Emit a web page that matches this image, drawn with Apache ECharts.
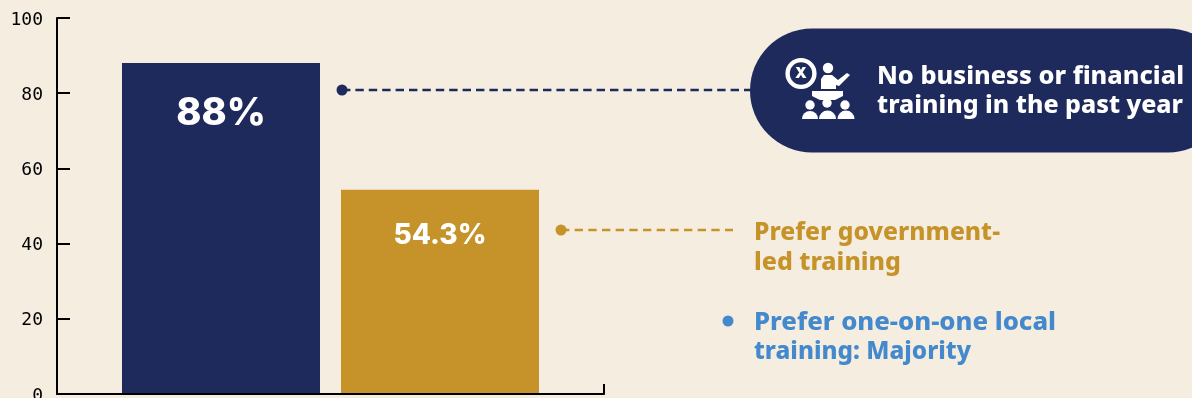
<!DOCTYPE html>
<html>
<head>
<meta charset="utf-8">
<style>
  html, body { margin: 0; padding: 0; background: #F5EDE0; }
  #chart { width: 1192px; height: 398px; }
</style>
<script src="https://cdn.jsdelivr.net/npm/echarts@6/dist/echarts.min.js"></script>
</head>
<body>
<div id="chart"></div>
<script>
const categories = ['Training'];
const noTrainingShare = [88];
const governmentLedShare = [54.3];
const yTicks = { min: 0, max: 100, interval: 20 };

const NAVY = '#1F2A5C';
const GOLD = '#C6932A';
const BLUE = '#4389CC';
const SANS = '"Noto Sans", sans-serif';
const VALUE_FONT = 'Inter, "Noto Sans", sans-serif';

const chart = echarts.init(document.getElementById('chart'), null, { renderer: 'canvas' });

// Half-disc used for the shoulders of each audience member
const shoulders = (cx, cy, r) => ({
  type: 'sector',
  shape: { cx, cy, r, r0: 0, startAngle: Math.PI, endAngle: 2 * Math.PI },
  style: { fill: '#fff' }
});

// Presenter and audience pictogram inside the navy pill
const icon = [
  { type: 'circle', shape: { cx: 801, cy: 73.5, r: 13.4 }, style: { fill: 'none', stroke: '#fff', lineWidth: 4.4 } },
  { type: 'text', style: { x: 801, y: 73.5, text: 'X', fill: '#fff', font: '900 15px ' + VALUE_FONT, align: 'center', verticalAlign: 'middle' } },
  { type: 'circle', shape: { cx: 828, cy: 68, r: 5.2 }, style: { fill: '#fff' } },
  { type: 'polygon', shape: { points: [[821, 89], [821, 79], [824, 75], [832, 75], [838, 80], [847, 73], [850, 75], [839, 86], [836, 85], [836, 89]] }, style: { fill: '#fff' } },
  { type: 'polygon', shape: { points: [[812, 91], [843, 91], [843, 96], [835, 100], [820, 100], [812, 96]] }, style: { fill: '#fff' } },
  { type: 'circle', shape: { cx: 810, cy: 105, r: 4.7 }, style: { fill: '#fff' } },
  { type: 'circle', shape: { cx: 827, cy: 103, r: 4.7 }, style: { fill: '#fff' } },
  { type: 'circle', shape: { cx: 845, cy: 105, r: 4.7 }, style: { fill: '#fff' } },
  shoulders(810, 119, 8),
  shoulders(827.5, 119, 8.5),
  shoulders(846, 119, 8.5)
];

// Annotation line stretched horizontally so it spans the given width
const measure = document.createElement('canvas').getContext('2d');
const label = (x, y, text, fill, span) => {
  const font = '800 24.5px ' + SANS;
  measure.font = font;
  return {
    type: 'text',
    x,
    y,
    scaleX: span / measure.measureText(text).width,
    style: { x: 0, y: 0, text, fill, font, verticalAlign: 'middle' }
  };
};

const annotations = [
  { type: 'rect', shape: { x: 750, y: 28.5, width: 480, height: 124, r: 62 }, style: { fill: NAVY } },
  { type: 'line', shape: { x1: 342, y1: 90, x2: 750, y2: 90 }, style: { stroke: NAVY, lineWidth: 2.6, lineDash: [8.4, 5] } },
  { type: 'circle', shape: { cx: 342, cy: 90, r: 5.5 }, style: { fill: NAVY } },
  { type: 'line', shape: { x1: 561, y1: 230, x2: 733, y2: 230 }, style: { stroke: GOLD, lineWidth: 2.6, lineDash: [8.3, 5.37] } },
  { type: 'circle', shape: { cx: 561, cy: 230, r: 5.5 }, style: { fill: GOLD } },
  { type: 'circle', shape: { cx: 728, cy: 321, r: 5.5 }, style: { fill: BLUE } },
  ...icon,
  label(877, 77, 'No business or financial', '#fff', 307),
  label(877, 106, 'training in the past year', '#fff', 306),
  label(754, 233, 'Prefer government-', GOLD, 246),
  label(754, 263, 'led training', GOLD, 147),
  label(754, 323, 'Prefer one-on-one local', BLUE, 302),
  label(754, 352, 'training: Majority', BLUE, 217)
];

const barSeries = (name, data, color, fontSize, distance) => ({
  name,
  type: 'bar',
  data,
  barWidth: 198,
  barGap: '10.6%',
  itemStyle: { color },
  label: {
    show: true,
    position: 'insideTop',
    distance,
    formatter: (p) => p.value + '%',
    color: '#fff',
    fontFamily: VALUE_FONT,
    fontWeight: 800,
    fontSize
  }
});

chart.setOption({
  backgroundColor: '#F5EDE0',
  animation: false,
  grid: { left: 57, top: 18, width: 547, height: 376, outerBoundsMode: 'none' },
  xAxis: {
    type: 'category',
    data: categories,
    z: 5,
    axisLine: { lineStyle: { color: '#000', width: 2 } },
    axisTick: { show: true, inside: true, length: 10, lineStyle: { color: '#000', width: 2 } },
    axisLabel: { show: false }
  },
  yAxis: {
    type: 'value',
    min: yTicks.min,
    max: yTicks.max,
    interval: yTicks.interval,
    z: 5,
    splitLine: { show: false },
    axisLine: { show: true, lineStyle: { color: '#000', width: 2 } },
    axisTick: { show: true, inside: true, length: 13, lineStyle: { color: '#000', width: 2 } },
    axisLabel: {
      margin: 14,
      color: '#000',
      fontFamily: '"DejaVu Sans Mono", monospace',
      fontSize: 18,
      verticalAlign: 'top',
      lineHeight: 4
    }
  },
  series: [
    barSeries('No business or financial training', noTrainingShare, NAVY, 38, 31),
    barSeries('Prefer government-led training', governmentLedShare, GOLD, 28, 32)
  ],
  graphic: annotations
});
</script>
</body>
</html>
